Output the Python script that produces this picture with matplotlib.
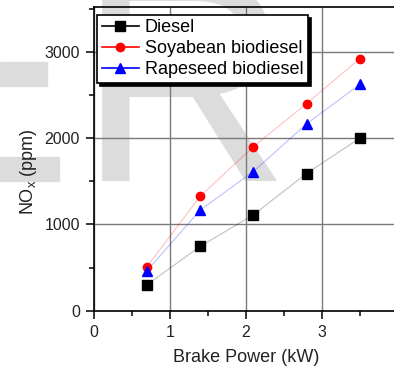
import matplotlib
matplotlib.use("Agg")
import matplotlib.pyplot as plt
from matplotlib.lines import Line2D
from matplotlib.patches import Rectangle
from matplotlib.ticker import MultipleLocator

plt.rcParams['font.family'] = ['Liberation Sans', 'DejaVu Sans']

# data
power = [0.7, 1.4, 2.1, 2.8, 3.5]
diesel = [300, 745, 1110, 1590, 2000]
soyabean = [510, 1325, 1900, 2400, 2920]
rapeseed = [462, 1165, 1612, 2165, 2622]
labels = ['Diesel', 'Soyabean biodiesel', 'Rapeseed biodiesel']

fig = plt.figure(figsize=(3.94, 3.68), dpi=100)

# light gray watermark behind the plot
wm = '#dcdcdc'
fig.patches.append(Rectangle((0, 1 - 86/368), 47/394, 24/368, transform=fig.transFigure,
                             color=wm, zorder=-5))
fig.patches.append(Rectangle((0, 1 - 181/368), 59/394, 24/368, transform=fig.transFigure,
                             color=wm, zorder=-5))
fig.text(78/394, 1 - 181/368, 'R', fontsize=212, color=wm, ha='left', va='baseline',
         family='Liberation Sans', zorder=-5)

ax = fig.add_axes([93.7/394, 1 - 310.7/368, 304/394, 303.7/368])
ax.set_facecolor('none')

ax.plot(power, diesel, color='black', lw=0.8, alpha=0.25)
ax.plot(power, soyabean, color='red', lw=0.8, alpha=0.25)
ax.plot(power, rapeseed, color='blue', lw=0.8, alpha=0.25)
ax.plot(power, diesel, 's', color='black', ms=7, zorder=3)
ax.plot(power, soyabean, 'o', color='red', ms=6, zorder=3)
ax.plot(power, rapeseed, '^', color='blue', ms=6.5, zorder=3)

ax.set_xlim(0, 4)
ax.set_ylim(0, 3520)
ax.xaxis.set_major_locator(MultipleLocator(1))
ax.xaxis.set_minor_locator(MultipleLocator(0.5))
ax.yaxis.set_major_locator(MultipleLocator(1000))
ax.yaxis.set_minor_locator(MultipleLocator(500))
ax.grid(True, which='major', color='#7a7a7a', lw=1)
ax.set_axisbelow(True)

for s in ax.spines.values():
    s.set_linewidth(1.2)
ax.tick_params(which='major', direction='out', length=6, width=1.1,
               labelsize=11.5, labelcolor='#222222', pad=4)
ax.tick_params(which='minor', direction='out', length=3.5, width=1.1)

ax.set_xlabel('Brake Power (kW)', fontsize=13, color='#222222')
ax.set_ylabel('NO$_\\mathregular{x}$ (ppm)', fontsize=13, color='#222222')
ax.xaxis.set_label_coords(0.5, -0.125)
ax.yaxis.set_label_coords(-0.18, 0.457)

handles = [
    Line2D([], [], color='black', marker='s', ms=7, lw=1.2),
    Line2D([], [], color='red', marker='o', ms=6, lw=1.2),
    Line2D([], [], color='blue', marker='^', ms=6.5, lw=1.2),
]
leg = ax.legend(handles, labels, loc='upper left', bbox_to_anchor=(0.005, 0.98),
                fontsize=13, frameon=True, fancybox=False, borderpad=0.25,
                handlelength=2.1, handletextpad=0.3, labelspacing=0.22,
                borderaxespad=0.1, framealpha=1,
                shadow={'facecolor': 'black', 'edgecolor': 'black', 'alpha': 1})
leg.get_frame().set_edgecolor('black')
leg.get_frame().set_linewidth(1.2)
leg.set_zorder(5)

fig.savefig('out.png', dpi=100)
